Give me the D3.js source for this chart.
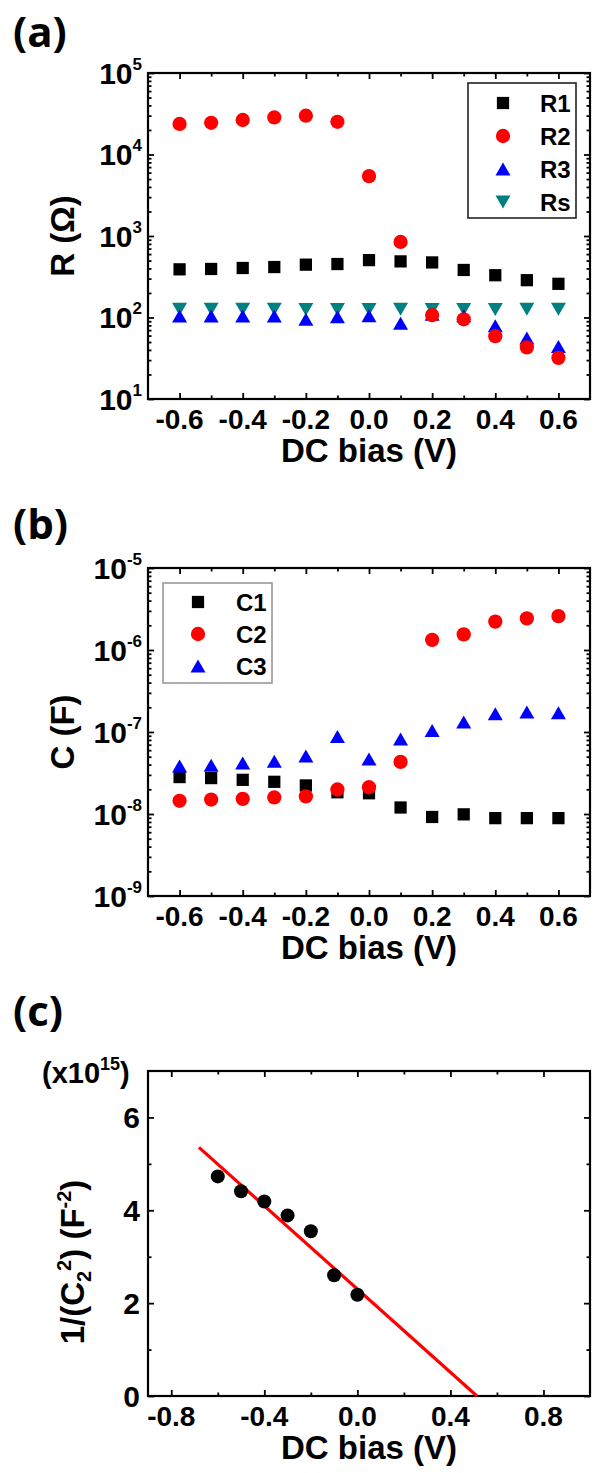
<!DOCTYPE html>
<html><head><meta charset="utf-8">
<script src="https://cdn.jsdelivr.net/npm/d3@7"></script>
<style>
body{margin:0;background:#fff}
text{font-family:"Liberation Sans",Arial,sans-serif;font-weight:bold;fill:#000}
</style>
</head><body>
<svg id="chart" width="597" height="1473"></svg>
<script>
// ---------- data ----------
const bias = [-0.6,-0.5,-0.4,-0.3,-0.2,-0.1,0.0,0.1,0.2,0.3,0.4,0.5,0.6];
const R1 = [390,394,405,416,445,453,506,488,474,383,330,287,259];
const R2 = [23700,24500,26500,28500,29900,25200,5430,845,107,95,59,43,32];
const R3 = [104,104,104,104,95,102,105,85,110,105,79,56,44];
const Rs = [126,126,126,126,125,125,125,126,125,125,125,126,126];
const C1 = [2.82e-8,2.74e-8,2.61e-8,2.47e-8,2.23e-8,1.84e-8,1.79e-8,1.20e-8,9.2e-9,9.9e-9,8.9e-9,8.9e-9,8.9e-9];
const C2 = [1.45e-8,1.50e-8,1.53e-8,1.59e-8,1.64e-8,1.99e-8,2.12e-8,4.32e-8,1.33e-6,1.55e-6,2.22e-6,2.43e-6,2.59e-6];
const C3 = [3.86e-8,3.94e-8,4.2e-8,4.4e-8,5.1e-8,8.8e-8,4.7e-8,8.2e-8,1.04e-7,1.32e-7,1.67e-7,1.75e-7,1.72e-7];
const biasC = [-0.6,-0.5,-0.4,-0.3,-0.2,-0.1,0.0];
const invC2 = [4.73,4.41,4.19,3.89,3.55,2.60,2.18];   // x10^15 F^-2
const fitBias = [-0.681,0.514];
const fitInv = [5.355,0];

const xTicksAB = [-0.6,-0.4,-0.2,0.0,0.2,0.4,0.6];
const xMinorAB = [-0.5,-0.3,-0.1,0.1,0.3,0.5];
const xLabelsAB = ["-0.6","-0.4","-0.2","0.0","0.2","0.4","0.6"];
const yExpA = [1,2,3,4,5];
const yExpB = [-9,-8,-7,-6,-5];
const xTicksC = [-0.8,-0.4,0.0,0.4,0.8];
const xMinorC = [-0.6,-0.2,0.2,0.6];
const xLabelsC = ["-0.8","-0.4","0.0","0.4","0.8"];
const yTicksC = [0,2,4,6];
const yMinorC = [1,3,5];

// ---------- layout ----------
const svg = d3.select("#chart");
const X0 = 148, X1 = 590;

function logMinor(lo, hi){
  const out=[];
  for(let e=lo;e<hi;e++) for(let k=2;k<=9;k++) out.push(k*Math.pow(10,e));
  return out;
}

function frame(x, y, xMaj, xMin, yMaj, yMin){
  const g = svg.append("g");
  const yb = y.range()[0], yt = y.range()[1];
  const defs = [
    [d3.axisBottom, `translate(0,${yb})`, x, xMaj, xMin],
    [d3.axisTop, `translate(0,${yt})`, x, xMaj, xMin],
    [d3.axisLeft, `translate(${X0},0)`, y, yMaj, yMin],
    [d3.axisRight, `translate(${X1},0)`, y, yMaj, yMin]];
  defs.forEach(([A,tr,s,maj,min])=>{
    const a1 = g.append("g").attr("transform",tr)
      .call(A(s).tickValues(maj).tickSizeInner(-6).tickSizeOuter(0).tickFormat(""));
    const a2 = g.append("g").attr("transform",tr)
      .call(A(s).tickValues(min).tickSizeInner(-3.5).tickSizeOuter(0).tickFormat(""));
    [a1,a2].forEach(a=>{a.select(".domain").remove();
      a.selectAll(".tick line").attr("stroke","#000").attr("stroke-width",1.8);});
  });
  g.append("rect").attr("x",X0).attr("y",yt).attr("width",X1-X0).attr("height",yb-yt)
    .attr("fill","none").attr("stroke","#000").attr("stroke-width",2.2);
}

function xLabels(x, yb, vals, labels){
  svg.append("g").selectAll("text").data(vals).join("text")
    .attr("x",d=>x(d)).attr("y",yb+30).attr("text-anchor","middle")
    .attr("font-size",28).text((d,i)=>labels[i]);
}
function logLabels(y, exps){
  const t = svg.append("g").selectAll("text").data(exps).join("text")
    .attr("x",142).attr("y",d=>y(Math.pow(10,d))+10.5).attr("text-anchor","end")
    .attr("font-size",30);
  t.append("tspan").text("10");
  t.append("tspan").attr("font-size",17).attr("dy",-14).text(d=>d);
}
function title(txt, yBase){
  svg.append("text").attr("x",13).attr("y",yBase).attr("font-size",42)
    .style("font-family","'Open Sans',sans-serif").text(txt);
}
function xTitle(yb){
  svg.append("text").attr("x",(X0+X1)/2).attr("y",yb+63).attr("text-anchor","middle")
    .attr("font-size",33).text("DC bias (V)");
}

const sq = d3.symbol().type(d3.symbolSquare).size(150)();
const ci = d3.symbol().type(d3.symbolCircle).size(160)();
const triUp = "M0,-6.5L7.5,6.5L-7.5,6.5Z";
const triDn = "M0,6.5L7.5,-6.5L-7.5,-6.5Z";

function scatter(x, y, xs, ys, path, color){
  svg.append("g").selectAll("path").data(ys).join("path")
    .attr("d",path).attr("fill",color)
    .attr("transform",(d,i)=>`translate(${x(xs[i])},${y(d)})`);
}
function legend(x0,y0,w,h,stroke,items,symX,txtX,rows){
  svg.append("rect").attr("x",x0).attr("y",y0).attr("width",w).attr("height",h)
    .attr("fill","#fff").attr("stroke",stroke).attr("stroke-width",1.6);
  items.forEach((it,i)=>{
    svg.append("path").attr("d",it.p).attr("fill",it.c)
      .attr("transform",`translate(${symX},${rows[i]})`);
    svg.append("text").attr("x",txtX).attr("y",rows[i]+8.5).attr("font-size",24).text(it.n);
  });
}

// ---------- panel (a) ----------
const xa = d3.scaleLinear().domain([-0.7,0.7]).range([X0,X1]);
const ya = d3.scaleLog().domain([10,1e5]).range([399,73]);
title("(a)",47);
frame(xa, ya, xTicksAB, xMinorAB, yExpA.map(e=>Math.pow(10,e)), logMinor(1,5));
xLabels(xa, 399, xTicksAB, xLabelsAB);
logLabels(ya, yExpA);
xTitle(399);
svg.append("text").attr("transform",`translate(74,236) rotate(-90)`).attr("text-anchor","middle")
  .attr("font-size",33).text("R (Ω)");
scatter(xa, ya, bias, R1, sq, "#000");
scatter(xa, ya, bias, Rs, triDn, "#008080");
scatter(xa, ya, bias, R3, triUp, "#0000ff");
scatter(xa, ya, bias, R2, ci, "#ff0000");
legend(468,83,108,135,"#222",[
  {n:"R1",p:sq,c:"#000"},{n:"R2",p:ci,c:"#ff0000"},{n:"R3",p:triUp,c:"#0000ff"},{n:"Rs",p:triDn,c:"#008080"}],
  503,540,[103,136,169,202]);

// ---------- panel (b) ----------
const yb = d3.scaleLog().domain([1e-9,1e-5]).range([896,568]);
title("(b)",539);
frame(xa, yb, xTicksAB, xMinorAB, yExpB.map(e=>Math.pow(10,e)), logMinor(-9,-5));
xLabels(xa, 896, xTicksAB, xLabelsAB);
logLabels(yb, yExpB);
xTitle(896);
svg.append("text").attr("transform",`translate(74,732) rotate(-90)`).attr("text-anchor","middle")
  .attr("font-size",33).text("C (F)");
scatter(xa, yb, bias, C1, sq, "#000");
scatter(xa, yb, bias, C3, triUp, "#0000ff");
scatter(xa, yb, bias, C2, ci, "#ff0000");
legend(163,583,109,100,"#999",[
  {n:"C1",p:sq,c:"#000"},{n:"C2",p:ci,c:"#ff0000"},{n:"C3",p:triUp,c:"#0000ff"}],
  198,236,[602,634,666]);

// ---------- panel (c) ----------
const xc = d3.scaleLinear().domain([-0.9,1.0]).range([X0,X1]);
const yc = d3.scaleLinear().domain([0,7]).range([1396,1071]);
title("(c)",1026);
frame(xc, yc, xTicksC, xMinorC, yTicksC, yMinorC);
xLabels(xc, 1396, xTicksC, xLabelsC);
svg.append("g").selectAll("text").data(yTicksC).join("text")
  .attr("x",140).attr("y",d=>yc(d)+10.5).attr("text-anchor","end").attr("font-size",30).text(d=>d);
xTitle(1396);
const mult = svg.append("text").attr("x",42).attr("y",1083).attr("font-size",29);
mult.append("tspan").text("(x10");
mult.append("tspan").attr("font-size",18).attr("dy",-13).text("15");
mult.append("tspan").attr("dy",13).text(")");
const yt = svg.append("text").attr("transform",`translate(84,1262) rotate(-90)`)
  .attr("text-anchor","middle").attr("font-size",33);
yt.append("tspan").text("1/(C");
yt.append("tspan").attr("font-size",20).attr("dy",7).text("2");
yt.append("tspan").attr("font-size",20).attr("dy",-20).text("2");
yt.append("tspan").attr("dy",13).text(") (F");
yt.append("tspan").attr("font-size",20).attr("dy",-13).text("-2");
yt.append("tspan").attr("dy",13).text(")");
svg.append("path").datum(fitBias.map((b,i)=>[b,fitInv[i]]))
  .attr("d",d3.line().x(d=>xc(d[0])).y(d=>yc(d[1])))
  .attr("stroke","#ff0000").attr("stroke-width",3.2).attr("fill","none");
svg.append("g").selectAll("circle").data(invC2).join("circle")
  .attr("cx",(d,i)=>xc(biasC[i])).attr("cy",d=>yc(d)).attr("r",7).attr("fill","#000");
</script>
</body></html>
